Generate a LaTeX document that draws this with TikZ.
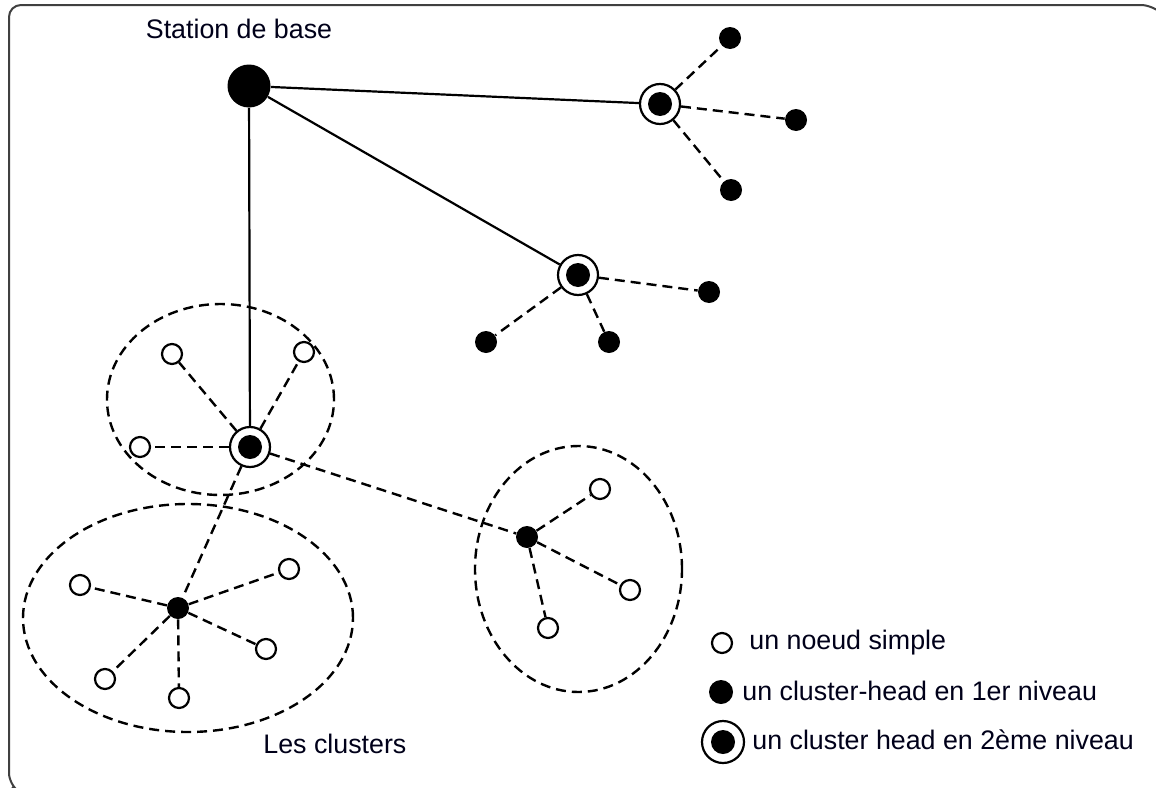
\documentclass[tikz,border=0pt]{standalone}
\usepackage{fontspec}
\setmainfont{Liberation Sans}
\usetikzlibrary{shapes.geometric}
\begin{document}
\begin{tikzpicture}[x=0.5pt,y=-0.5pt,
  link/.style={line width=1.1pt},
  dlink/.style={line width=1.2pt, dash pattern=on 5pt off 3pt},
  simple/.style={circle, draw, line width=1.1pt, fill=white, inner sep=0pt, minimum size=10pt},
  head/.style={circle, fill=black, inner sep=0pt, minimum size=11pt},
  head2/.style={circle, draw, line width=1.1pt, fill=white, inner sep=0pt, minimum size=20pt,
    path picture={\fill[black] (path picture bounding box.center) circle (6pt);}},
  bs/.style={circle, fill=black, inner sep=0pt, minimum size=21.5pt},
  cluster/.style={ellipse, draw, dlink, inner sep=0pt},
  txt/.style={font=\fontsize{13.4}{16}\selectfont, inner sep=0pt, text=black!90!blue}
]
\useasboundingbox (0,0) rectangle (1156,787);
% frame
\draw[line width=1pt, black!75, rounded corners=6pt] (1156,8) -- (1153,5) -- (9,5) -- (9,785) -- (12,787);

% clusters
\node[cluster, minimum width=113.5pt, minimum height=95.5pt] (k1) at (220.5,399.5) {};
\node[cluster, minimum width=165pt, minimum height=114pt] (k2) at (188,618) {};
\node[cluster, minimum width=103.5pt, minimum height=123pt] (k3) at (578.5,569) {};

% nodes
\node[bs] (bs) at (249,86) {};
\node[txt, anchor=base] (bslabel) at (239,38) {Station de base};
\node[head2] (a) at (660,104) {};
\node[head] (a1) at (730,38) {};
\node[head] (a2) at (796,120) {};
\node[head] (a3) at (731,190) {};
\node[head2] (b) at (578,275) {};
\node[head] (b1) at (709,292) {};
\node[head] (b2) at (486,342) {};
\node[head] (b3) at (609,342) {};
\node[head2] (c) at (250,447) {};
\node[simple] (c1) at (172,354) {};
\node[simple] (c2) at (304,352) {};
\node[simple] (c3) at (140,447) {};
\node[head] (d) at (178,608) {};
\node[simple] (d1) at (80,585) {};
\node[simple] (d2) at (289,569) {};
\node[simple] (d3) at (266,649) {};
\node[simple] (d4) at (105,679) {};
\node[simple] (d5) at (179,698) {};
\node[head] (e) at (527,537) {};
\node[simple] (e1) at (600,489) {};
\node[simple] (e2) at (630,590) {};
\node[simple] (e3) at (548,628) {};

% links
\draw[link] (bs) -- (a);
\draw[link] (bs) -- (b);
\draw[link] (bs) -- (c);
\foreach \n in {a1,a2,a3} \draw[dlink] (a) -- (\n);
\foreach \n in {b1,b2,b3} \draw[dlink] (b) -- (\n);
\foreach \n in {c1,c2,c3,d,e} \draw[dlink] (c) -- (\n);
\foreach \n in {d1,d2,d3,d4,d5} \draw[dlink] (d) -- (\n);
\foreach \n in {e1,e2,e3} \draw[dlink] (e) -- (\n);

% legend
\node[simple] (l1) at (722,643) {};
\node[txt, anchor=base west] (t1) at (749,649) {un noeud simple};
\node[head, minimum size=12pt] (l2) at (721,692) {};
\node[txt, anchor=base west] (t2) at (742,700) {un cluster-head en 1er niveau};
\node[head2, minimum size=21pt] (l3) at (723,742) {};
\node[txt, anchor=base west] (t3) at (752,749) {un cluster head en 2ème niveau};
\node[txt, anchor=base west] (lc) at (263,753) {Les clusters};
\end{tikzpicture}
\end{document}
